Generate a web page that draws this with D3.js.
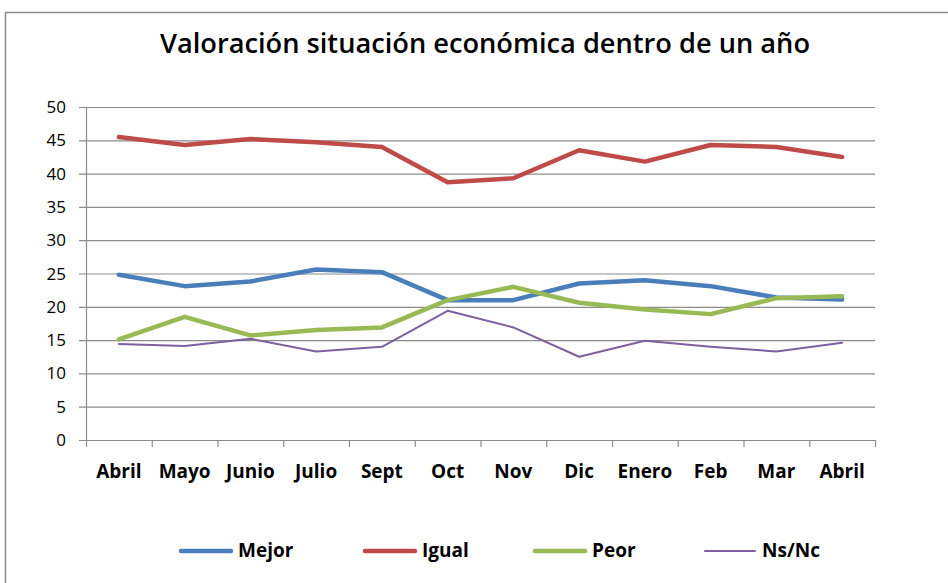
<!DOCTYPE html>
<html><head><meta charset="utf-8">
<script src="https://cdn.jsdelivr.net/npm/d3@7"></script>
<style>html,body{margin:0;padding:0;background:#fff;}svg{display:block;}</style>
</head><body>
<svg id="chart" width="948" height="583"></svg>
<script>
const categories = ["Abril","Mayo","Junio","Julio","Sept","Oct","Nov","Dic","Enero","Feb","Mar","Abril"];
const mejor = [24.8,23.1,23.8,25.6,25.2,21.0,21.0,23.5,24.0,23.1,21.4,21.1];
const igual = [45.5,44.3,45.2,44.7,44.0,38.7,39.3,43.5,41.8,44.3,44.0,42.5];
const peor  = [15.1,18.5,15.7,16.5,16.9,21.0,23.0,20.6,19.6,18.9,21.3,21.6];
const nsnc  = [14.4,14.1,15.2,13.3,14.0,19.4,16.9,12.5,14.9,14.0,13.3,14.6];
const seriesNames = ["Mejor","Igual","Peor","Ns/Nc"];
const yTicks = [0,5,10,15,20,25,30,35,40,45,50];
const title = "Valoración situación económica dentro de un año";

const colors = ["#4a7ebb","#be4b48","#98b954","#7d60a0"];
const widths = [4.5,4.5,4.5,2];
const seriesData = [mejor, igual, peor, nsnc];

const svg = d3.select("#chart");
const font = "'Open Sans', 'Noto Sans', sans-serif";

svg.append("rect").attr("x",5.5).attr("y",12.5).attr("width",960).attr("height",600)
  .attr("fill","#fff").attr("stroke","#8c8c8c").attr("stroke-width",1.5);

svg.append("text").attr("x",160).attr("y",53)
  .attr("font-family",font).attr("font-weight","600").attr("font-size",27)
  .attr("textLength",650).attr("lengthAdjust","spacingAndGlyphs")
  .attr("fill","#000").text(title);

const pLeft = 86, pRight = 875, pTop = 107, pBottom = 440;
const x = d3.scaleBand().domain(d3.range(categories.length)).range([pLeft,pRight]);
const y = d3.scaleLinear().domain([0,50]).range([pBottom,pTop]);

// gridlines
svg.append("g").selectAll("line").data(yTicks).join("line")
  .attr("x1",pLeft-7).attr("x2",pRight).attr("y1",d=>y(d)+0.5).attr("y2",d=>y(d)+0.5)
  .attr("stroke","#8c8c8c").attr("stroke-width",1.2);

// y axis line
svg.append("line").attr("x1",pLeft+0.5).attr("x2",pLeft+0.5).attr("y1",pTop).attr("y2",pBottom)
  .attr("stroke","#8c8c8c").attr("stroke-width",1.2);

// x ticks at band boundaries
const bounds = d3.range(categories.length+1).map(i=> i<categories.length ? x(i) : pRight);
svg.append("g").selectAll("line").data(bounds).join("line")
  .attr("x1",d=>d+0.5).attr("x2",d=>d+0.5).attr("y1",pBottom).attr("y2",pBottom+7)
  .attr("stroke","#8c8c8c").attr("stroke-width",1.2);

// y labels
svg.append("g").selectAll("text").data(yTicks).join("text")
  .attr("x",66).attr("y",d=>y(d)+6).attr("text-anchor","end")
  .attr("font-family",font).attr("font-size",17).attr("fill","#000").text(d=>d);

// x labels
svg.append("g").selectAll("text").data(categories).join("text")
  .attr("x",(d,i)=>x(i)+x.bandwidth()/2).attr("y",478).attr("text-anchor","middle")
  .attr("font-family",font).attr("font-weight","bold").attr("font-size",19).attr("fill","#000").text(d=>d);

// lines
const line = d3.line().x((d,i)=>x(i)+x.bandwidth()/2).y(d=>y(d));
seriesData.forEach((s,k)=>{
  svg.append("path").attr("d",line(s)).attr("fill","none")
    .attr("stroke",colors[k]).attr("stroke-width",widths[k])
    .attr("stroke-linejoin","round").attr("stroke-linecap","round");
});

// legend
const legX = [179,363,533,703];
seriesNames.forEach((n,k)=>{
  svg.append("line").attr("x1",legX[k]+2).attr("x2",legX[k]+52).attr("y1",551).attr("y2",551)
    .attr("stroke",colors[k]).attr("stroke-width",widths[k]).attr("stroke-linecap","round");
  svg.append("text").attr("x",legX[k]+59).attr("y",557)
    .attr("font-family",font).attr("font-weight","bold").attr("font-size",19).attr("fill","#000").text(n);
});
</script>
</body></html>
